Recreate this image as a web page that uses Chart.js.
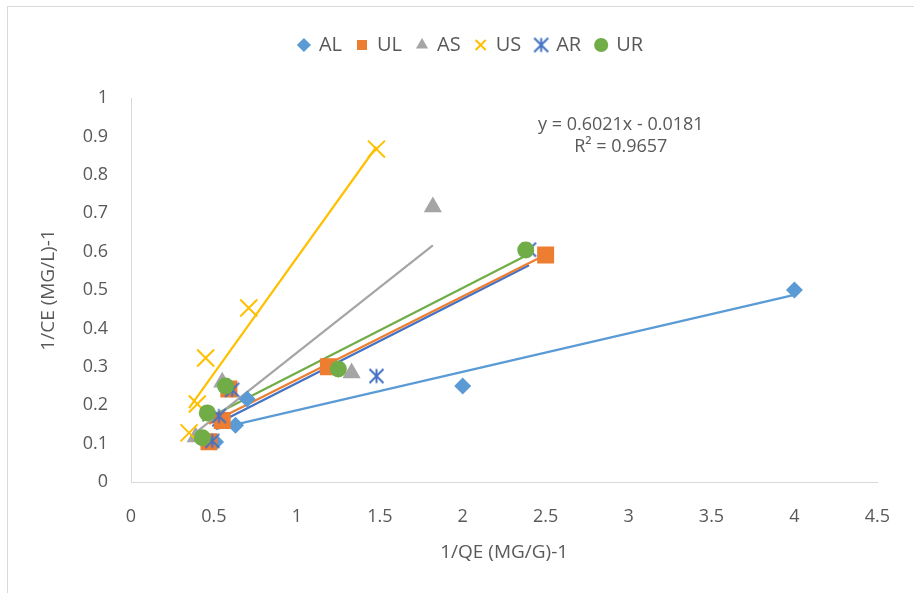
<!DOCTYPE html>
<html>
<head>
<meta charset="utf-8">
<script src="https://cdn.jsdelivr.net/npm/chart.js@4"></script>
<style>
  html, body { margin: 0; padding: 0; background: #fff; }
  #wrap { position: relative; width: 914px; height: 593px; overflow: hidden; }
  #frame { position: absolute; left: 7px; top: 6px; width: 920px; height: 600px;
           border-left: 1px solid #d9d9d9; border-top: 1px solid #d9d9d9; }
  #isotherm { position: absolute; left: 0; top: 0; }
</style>
</head>
<body>
<div id="wrap">
  <div id="frame"></div>
  <canvas id="isotherm" width="914" height="593"></canvas>
</div>
<script>
// 1/qe vs 1/ce for each sample
const seriesNames = ["AL", "UL", "AS", "US", "AR", "UR"];

const alX = [0.51, 0.63, 0.70, 2.0, 4.0];
const alY = [0.104, 0.148, 0.216, 0.25, 0.5];

const ulX = [0.47, 0.55, 0.59, 1.19, 2.5];
const ulY = [0.105, 0.16, 0.242, 0.30, 0.591];

const asX = [0.39, 0.55, 1.33, 1.82];
const asY = [0.117, 0.26, 0.284, 0.716];

const usX = [0.35, 0.40, 0.45, 0.71, 1.48];
const usY = [0.128, 0.203, 0.323, 0.453, 0.867];

const arX = [0.49, 0.53, 0.61, 1.48, 2.40];
const arY = [0.107, 0.172, 0.24, 0.276, 0.605];

const urX = [0.43, 0.46, 0.57, 1.25, 2.38];
const urY = [0.115, 0.18, 0.25, 0.294, 0.604];

// fitted line shown on the chart for US
const usSlope = 0.6021;
const usIntercept = -0.0181;
const usR2 = 0.9657;

const xTicks = [0, 0.5, 1, 1.5, 2, 2.5, 3, 3.5, 4, 4.5];
const yTicks = [0, 0.1, 0.2, 0.3, 0.4, 0.5, 0.6, 0.7, 0.8, 0.9, 1];

const colors = ["#5B9BD5", "#ED7D31", "#A5A5A5", "#FFC000", "#4472C4", "#70AD47"];
const textColor = "#595959";

function toPoints(xs, ys) {
    return xs.map((x, i) => ({ x: x, y: ys[i] }));
}

// least squares fit, returns [slope, intercept]
function linearFit(xs, ys) {
    const n = xs.length;
    const mx = xs.reduce((a, b) => a + b, 0) / n;
    const my = ys.reduce((a, b) => a + b, 0) / n;
    let sxy = 0, sxx = 0;
    for (let i = 0; i < n; i++) {
        sxy += (xs[i] - mx) * (ys[i] - my);
        sxx += (xs[i] - mx) * (xs[i] - mx);
    }
    const slope = sxy / sxx;
    return [slope, my - slope * mx];
}

function trendPoints(xs, fit) {
    const lo = Math.min(...xs), hi = Math.max(...xs);
    return [{ x: lo, y: fit[0] * lo + fit[1] }, { x: hi, y: fit[0] * hi + fit[1] }];
}

// six spoke marker used for AR
function asteriskMarker(size, color) {
    const c = document.createElement("canvas");
    c.width = size;
    c.height = size;
    const g = c.getContext("2d");
    const m = size / 2, r = size / 2 - 1.5;
    g.strokeStyle = color;
    g.lineWidth = 2;
    g.beginPath();
    g.moveTo(m, m - r); g.lineTo(m, m + r);
    g.moveTo(m - r, m - r); g.lineTo(m + r, m + r);
    g.moveTo(m + r, m - r); g.lineTo(m - r, m + r);
    g.stroke();
    return c;
}

function tickText(v) {
    return String(Number(v.toFixed(2)));
}

const allX = [alX, ulX, asX, usX, arX, urX];
const allY = [alY, ulY, asY, usY, arY, urY];
const styles = [
    { pointStyle: "rectRot", pointRadius: 8.5, pointBorderWidth: 0 },
    { pointStyle: "rect", pointRadius: 12, pointBorderWidth: 0 },
    { pointStyle: "triangle", pointRadius: 10.5, pointBorderWidth: 0 },
    { pointStyle: "crossRot", pointRadius: 12, pointBorderWidth: 2 },
    { pointStyle: asteriskMarker(17, colors[4]), pointRadius: 8, pointBorderWidth: 2 },
    { pointStyle: "circle", pointRadius: 8.5, pointBorderWidth: 0 }
];

const datasets = [];
seriesNames.forEach((name, i) => {
    datasets.push(Object.assign({
        label: name,
        data: toPoints(allX[i], allY[i]),
        backgroundColor: colors[i],
        borderColor: colors[i],
        showLine: false,
        order: 6 - i
    }, styles[i]));
});
seriesNames.forEach((name, i) => {
    const fit = name === "US" ? [usSlope, usIntercept] : linearFit(allX[i], allY[i]);
    datasets.push({
        label: name + " trend",
        data: trendPoints(allX[i], fit),
        borderColor: colors[i],
        backgroundColor: colors[i],
        borderWidth: 2.2,
        pointRadius: 0,
        showLine: true,
        order: 20
    });
});

// extra room under the legend, and nudge it right a little
const legendTweak = {
    id: "legendTweak",
    beforeInit(chart) {
        const legend = chart.legend;
        const fit = legend.fit;
        legend.fit = function () {
            fit.bind(legend)();
            this.height += 33;
        };
        const draw = legend.draw;
        legend.draw = function () {
            const ctx = chart.ctx;
            ctx.save();
            ctx.translate(14, 0);
            draw.bind(legend)();
            ctx.restore();
        };
    }
};

// equation and R² of the US trendline
const equationLabel = {
    id: "equationLabel",
    afterDatasetsDraw(chart) {
        const { ctx, scales } = chart;
        const cx = scales.x.getPixelForValue(2.953);
        ctx.save();
        ctx.fillStyle = textColor;
        ctx.font = "18px 'Open Sans', sans-serif";
        ctx.textAlign = "center";
        ctx.textBaseline = "middle";
        const sign = usIntercept < 0 ? " - " : " + ";
        ctx.fillText("y = " + usSlope.toFixed(4) + "x" + sign + Math.abs(usIntercept).toFixed(4), cx, scales.y.getPixelForValue(0.93));
        ctx.fillText("R² = " + usR2.toFixed(4), cx, scales.y.getPixelForValue(0.872));
        ctx.restore();
    }
};

Chart.defaults.font.family = "'Open Sans', sans-serif";
Chart.defaults.color = textColor;

new Chart(document.getElementById("isotherm"), {
    type: "scatter",
    data: { datasets: datasets },
    plugins: [legendTweak, equationLabel],
    options: {
        responsive: false,
        animation: false,
        layout: { padding: { left: 33, right: 33, top: 20, bottom: 27 } },
        plugins: {
            tooltip: { enabled: false },
            legend: {
                position: "top",
                labels: {
                    usePointStyle: true,
                    boxWidth: 10,
                    boxHeight: 10,
                    padding: 15,
                    color: textColor,
                    font: { size: 20 },
                    filter: (item) => item.datasetIndex < seriesNames.length,
                    sort: (a, b) => a.datasetIndex - b.datasetIndex
                }
            }
        },
        scales: {
            x: {
                type: "linear",
                min: xTicks[0],
                max: xTicks[xTicks.length - 1],
                afterBuildTicks: (scale) => { scale.ticks = xTicks.map(v => ({ value: v })); },
                afterFit: (scale) => { scale.height = 84; },
                grid: { display: false, drawTicks: false },
                border: { display: true, color: "#d9d9d9", width: 1 },
                ticks: { padding: 24, font: { size: 18 }, color: textColor, callback: tickText },
                title: {
                    display: true,
                    text: "1/QE (MG/G)-1",
                    color: textColor,
                    font: { size: 19 },
                    padding: { top: 13, bottom: 2 }
                }
            },
            y: {
                type: "linear",
                min: yTicks[0],
                max: yTicks[yTicks.length - 1],
                afterBuildTicks: (scale) => { scale.ticks = yTicks.map(v => ({ value: v })); },
                afterFit: (scale) => { scale.width = 98; },
                grid: { display: false, drawTicks: false },
                border: { display: true, color: "#d9d9d9", width: 1 },
                ticks: { padding: 23, font: { size: 18 }, color: textColor, callback: tickText },
                title: {
                    display: true,
                    text: "1/CE (MG/L)-1",
                    color: textColor,
                    font: { size: 19 },
                    padding: { top: 4, bottom: 4 }
                }
            }
        }
    }
});
</script>
</body>
</html>
